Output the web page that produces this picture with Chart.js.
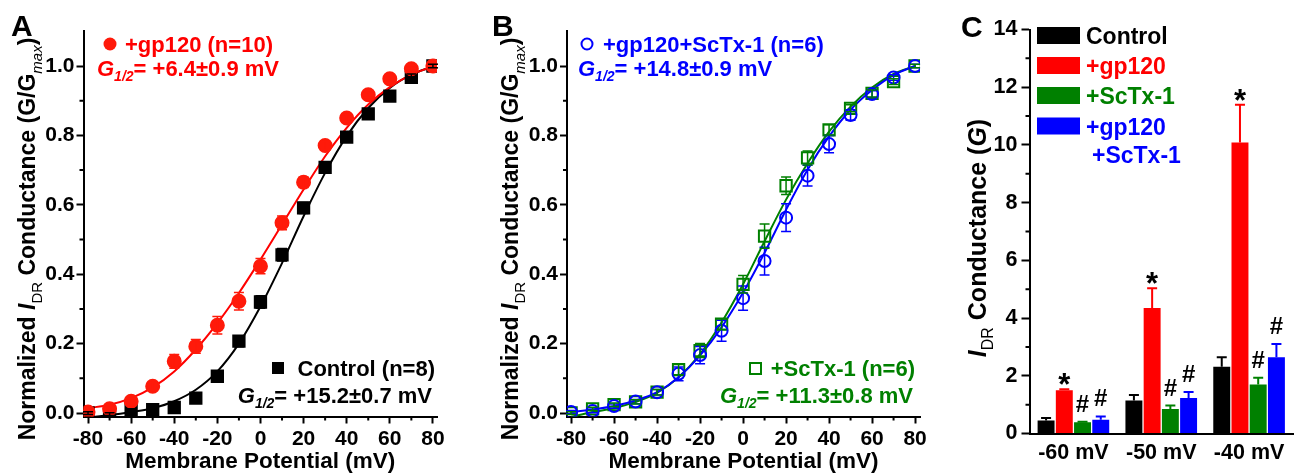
<!DOCTYPE html>
<html>
<head>
<meta charset="utf-8">
<script src="https://cdn.jsdelivr.net/npm/chart.js@4.4.1/dist/chart.umd.min.js"></script>
<style>
  html, body { margin: 0; padding: 0; background: #fff; }
  body { width: 1295px; height: 475px; position: relative; overflow: hidden; }
  .panel { position: absolute; top: 0; height: 475px; }
  #boxA { left: 0; width: 460px; }
  #boxB { left: 460px; width: 480px; }
  #boxC { left: 940px; width: 355px; }
</style>
</head>
<body>
<div class="panel" id="boxA"><canvas id="chartA"></canvas></div>
<div class="panel" id="boxB"><canvas id="chartB"></canvas></div>
<div class="panel" id="boxC"><canvas id="chartC"></canvas></div>
<script>
const FONT = "'Liberation Sans', Arial, Helvetica, sans-serif";

// shared voltage steps (mV) and axis ticks for A and B
const voltages = [-80, -70, -60, -50, -40, -30, -20, -10, 0, 10, 20, 30, 40, 50, 60, 70, 80];
const xTicks = [-80, -60, -40, -20, 0, 20, 40, 60, 80];
const xMinor = [-70, -50, -30, -10, 10, 30, 50, 70];
const yTicks = [0, 0.2, 0.4, 0.6, 0.8, 1.0];
const yMinor = [0.1, 0.3, 0.5, 0.7, 0.9];

// panel A
const controlMean = [0.000, -0.003, 0.008, 0.010, 0.016, 0.043, 0.106, 0.207, 0.320, 0.456, 0.591, 0.708, 0.795, 0.862, 0.913, 0.967, 1.000];
const controlSem  = [0.004, 0.004, 0.004, 0.005, 0.006, 0.008, 0.012, 0.016, 0.018, 0.018, 0.016, 0.015, 0.015, 0.013, 0.012, 0.010, 0.005];
const controlFit  = [-0.013, -0.006, 0.003, 0.014, 0.034, 0.067, 0.120, 0.200, 0.307, 0.432, 0.567, 0.692, 0.798, 0.879, 0.937, 0.975, 0.999];
const gp120Mean = [0.003, 0.012, 0.034, 0.077, 0.149, 0.192, 0.253, 0.322, 0.423, 0.548, 0.665, 0.771, 0.850, 0.917, 0.963, 0.992, 1.000];
const gp120Sem  = [0.005, 0.005, 0.008, 0.010, 0.020, 0.020, 0.025, 0.025, 0.022, 0.020, 0.015, 0.012, 0.010, 0.008, 0.006, 0.005, 0.005];
const gp120Fit  = [0.014, 0.024, 0.043, 0.074, 0.120, 0.183, 0.259, 0.346, 0.442, 0.543, 0.644, 0.740, 0.822, 0.889, 0.939, 0.975, 0.999];

// panel B
const combMean = [0.003, 0.006, 0.020, 0.033, 0.060, 0.113, 0.167, 0.237, 0.331, 0.438, 0.563, 0.684, 0.775, 0.859, 0.919, 0.967, 1.000];
const combSem  = [0.004, 0.005, 0.006, 0.006, 0.008, 0.020, 0.025, 0.030, 0.035, 0.040, 0.040, 0.030, 0.025, 0.015, 0.010, 0.008, 0.005];
const combFit  = [0.003, 0.010, 0.020, 0.036, 0.060, 0.103, 0.166, 0.247, 0.347, 0.462, 0.586, 0.701, 0.797, 0.874, 0.931, 0.974, 1.000];
const sctxMean = [0.000, 0.012, 0.024, 0.032, 0.060, 0.125, 0.180, 0.256, 0.371, 0.510, 0.655, 0.735, 0.816, 0.878, 0.921, 0.955, 1.000];
const sctxSem  = [0.004, 0.005, 0.005, 0.006, 0.008, 0.015, 0.020, 0.015, 0.025, 0.035, 0.025, 0.020, 0.015, 0.010, 0.010, 0.008, 0.005];
const sctxFit  = [-0.011, 0.003, 0.014, 0.032, 0.058, 0.103, 0.170, 0.261, 0.371, 0.495, 0.615, 0.720, 0.811, 0.883, 0.938, 0.977, 1.000];

// panel C
const groups = ['-60 mV', '-50 mV', '-40 mV'];
const cTicks = [0, 2, 4, 6, 8, 10, 12, 14];
const cMinor = [1, 3, 5, 7, 9, 11, 13];
const controlG = [0.45, 1.14, 2.31];
const controlGErr = [0.09, 0.19, 0.33];
const gp120G = [1.50, 4.35, 10.08];
const gp120GErr = [0.03, 0.68, 1.31];
const sctxG = [0.39, 0.85, 1.70];
const sctxGErr = [0.02, 0.12, 0.23];
const combG = [0.48, 1.23, 2.64];
const combGErr = [0.11, 0.21, 0.46];
const gp120Marks = ['*', '*', '*'];
const sctxMarks = ['#', '#', '#'];
const combMarks = ['#', '#', '#'];

const RED = '#ff0000', BLUE = '#0000ff', GREEN = '#008000';

const pts = arr => voltages.map((v, i) => ({x: v, y: arr[i]}));

function drawParts(ctx, parts, x, y, align) {
    let w = 0;
    parts.forEach(p => {
        ctx.font = p[2] + ' ' + p[1] + 'px ' + FONT;
        p.w = ctx.measureText(p[0]).width;
        w += p.w;
    });
    let cx = align === 'right' ? x - w : align === 'center' ? x - w / 2 : x;
    ctx.textAlign = 'left';
    ctx.textBaseline = 'alphabetic';
    parts.forEach(p => {
        ctx.font = p[2] + ' ' + p[1] + 'px ' + FONT;
        ctx.fillText(p[0], cx, y + (p[3] || 0));
        cx += p.w;
    });
}

const gHalf = txt => [['G', 22, 'italic bold'], ['1/2', 14, 'italic bold', 5], [txt, 22, 'bold']];

function rotatedTitle(ctx, parts, bx, cy) {
    ctx.save();
    ctx.translate(bx, cy);
    ctx.rotate(-Math.PI / 2);
    ctx.fillStyle = '#000';
    drawParts(ctx, parts, 0, 0, 'center');
    ctx.restore();
}

const ivTitle = [
    ['Normalized ', 23, 'bold'], ['I', 23, 'italic bold'], ['DR', 15, 'normal', 7],
    [' Conductance (G/G', 23, 'bold'], ['max', 15, 'italic', 7], [')', 23, 'bold']
];

const minorTicks = {
    id: 'minorTicks',
    afterDraw(chart, args, opts) {
        const {ctx, scales: {x, y}} = chart;
        ctx.save();
        ctx.strokeStyle = '#000';
        ctx.lineWidth = 2;
        ctx.beginPath();
        (opts.x || []).forEach(v => {
            const px = x.getPixelForValue(v);
            ctx.moveTo(px, x.top);
            ctx.lineTo(px, x.top + 4);
        });
        (opts.y || []).forEach(v => {
            const py = y.getPixelForValue(v);
            ctx.moveTo(y.right, py);
            ctx.lineTo(y.right - 4, py);
        });
        ctx.stroke();
        ctx.restore();
    }
};

const errorBars = {
    id: 'errorBars',
    afterDatasetsDraw(chart) {
        const {ctx} = chart;
        const y = chart.scales.y;
        chart.data.datasets.forEach((ds, i) => {
            if (!ds.errors) return;
            const meta = chart.getDatasetMeta(i);
            ctx.save();
            ctx.strokeStyle = ds.errColor || ds.borderColor;
            ctx.lineWidth = ds.errWidth || 1.5;
            const cap = ds.capHalf || 4;
            meta.data.forEach((el, j) => {
                const v = typeof ds.data[j] === 'object' ? ds.data[j].y : ds.data[j];
                const e = ds.errors[j];
                const top = y.getPixelForValue(v + e);
                const bot = ds.upOnly ? y.getPixelForValue(v) : y.getPixelForValue(v - e);
                ctx.beginPath();
                ctx.moveTo(el.x, top); ctx.lineTo(el.x, bot);
                ctx.moveTo(el.x - cap, top); ctx.lineTo(el.x + cap, top);
                if (!ds.upOnly) { ctx.moveTo(el.x - cap, bot); ctx.lineTo(el.x + cap, bot); }
                ctx.stroke();
                if (ds.marks) {
                    const m = ds.marks[j];
                    ctx.fillStyle = '#000';
                    ctx.textAlign = 'center';
                    ctx.textBaseline = 'alphabetic';
                    if (m === '*') {
                        ctx.font = 'bold 31px ' + FONT;
                        ctx.fillText(m, el.x, top + 6);
                    } else {
                        ctx.font = 'bold 24px ' + FONT;
                        ctx.fillText(m, el.x, top - 10);
                    }
                }
            });
            ctx.restore();
        });
    }
};

Chart.register(minorTicks, errorBars);

const axisFont = {family: FONT, size: 21, weight: 'bold'};
const axisGrid = {drawOnChartArea: false, tickLength: 7, tickWidth: 2, tickColor: '#000'};
const axisBorder = {color: '#000', width: 2};

function ivScales(xmin, xmax, yWidth) {
    return {
        x: {
            type: 'linear', min: xmin, max: xmax,
            afterBuildTicks: s => { s.ticks = xTicks.map(v => ({value: v})); },
            afterFit: s => { s.height = 475 - 416.5; },
            grid: axisGrid, border: axisBorder,
            ticks: {color: '#000', font: axisFont, padding: 3, maxRotation: 0, autoSkip: false}
        },
        y: {
            min: -0.01, max: 1.1,
            afterBuildTicks: s => { s.ticks = yTicks.map(v => ({value: v})); },
            afterFit: s => { s.width = yWidth; },
            grid: axisGrid, border: axisBorder,
            ticks: {color: '#000', font: axisFont, padding: 2, callback: v => v.toFixed(1)}
        }
    };
}

function fitLine(data, color) {
    return {data: pts(data), showLine: true, borderColor: color, borderWidth: 2, pointRadius: 0,
        cubicInterpolationMode: 'monotone', fill: false};
}

function points(data, err, color, style, filled, r) {
    return {data: pts(data), errors: err, showLine: false, borderColor: color, pointStyle: style,
        pointRadius: r, pointHoverRadius: r, pointBorderWidth: 2, pointBorderColor: color,
        pointBackgroundColor: filled ? color : 'rgba(255,255,255,0)', capHalf: 5};
}

// panel A
new Chart(document.getElementById('chartA'), {
    type: 'scatter',
    data: {
        datasets: [
            points(gp120Mean, gp120Sem, '#ff1a0a', 'circle', true, 6.5),
            points(controlMean, controlSem, '#000', 'rect', true, 8),
            fitLine(gp120Fit, RED),
            fitLine(controlFit, '#000')
        ]
    },
    options: {
        animation: false, responsive: true, maintainAspectRatio: false,
        layout: {padding: {top: 31.3, right: 23, left: 0, bottom: 0}},
        plugins: {legend: {display: false}, tooltip: {enabled: false}, minorTicks: {x: xMinor, y: yMinor}},
        scales: ivScales(-82.1, 81.9, 83.5)
    },
    plugins: [{
        id: 'textA',
        afterDraw(chart) {
            const ctx = chart.ctx, a = chart.chartArea;
            ctx.save();
            ctx.fillStyle = '#000';
            drawParts(ctx, [['A', 30, 'bold']], 11, 36, 'left');
            drawParts(ctx, [['Membrane Potential (mV)', 22.5, 'bold']], (a.left + a.right) / 2, 468, 'center');
            rotatedTitle(ctx, ivTitle, 35, 239);
            // legend gp120
            ctx.fillStyle = '#ff1a0a';
            ctx.beginPath(); ctx.arc(110, 44, 6.5, 0, Math.PI * 2); ctx.fill();
            ctx.fillStyle = RED;
            drawParts(ctx, [['+gp120 (n=10)', 22, 'bold']], 125, 52, 'left');
            drawParts(ctx, gHalf('= +6.4\u00b10.9 mV'), 97, 76, 'left');
            // legend control
            ctx.fillStyle = '#000';
            ctx.fillRect(272, 362, 12, 12);
            drawParts(ctx, [['Control (n=8)', 22, 'bold']], 435, 376, 'right');
            drawParts(ctx, gHalf('= +15.2\u00b10.7 mV'), 432, 403, 'right');
            ctx.restore();
        }
    }]
});

// panel B
new Chart(document.getElementById('chartB'), {
    type: 'scatter',
    data: {
        datasets: [
            points(combMean, combSem, BLUE, 'circle', false, 6),
            points(sctxMean, sctxSem, GREEN, 'rect', false, 8),
            fitLine(combFit, BLUE),
            fitLine(sctxFit, GREEN)
        ]
    },
    options: {
        animation: false, responsive: true, maintainAspectRatio: false,
        layout: {padding: {top: 31.3, right: 20, left: 0, bottom: 0}},
        plugins: {legend: {display: false}, tooltip: {enabled: false}, minorTicks: {x: xMinor, y: yMinor}},
        scales: ivScales(-81.9, 82.3, 107)
    },
    plugins: [{
        id: 'textB',
        afterDraw(chart) {
            const ctx = chart.ctx, a = chart.chartArea;
            ctx.save();
            ctx.fillStyle = '#000';
            drawParts(ctx, [['B', 30, 'bold']], 32, 36, 'left');
            drawParts(ctx, [['Membrane Potential (mV)', 22.5, 'bold']], (a.left + a.right) / 2, 468, 'center');
            rotatedTitle(ctx, ivTitle, 58, 239);
            ctx.strokeStyle = BLUE; ctx.lineWidth = 2;
            ctx.beginPath(); ctx.arc(127, 44, 5.5, 0, Math.PI * 2); ctx.stroke();
            ctx.fillStyle = BLUE;
            drawParts(ctx, [['+gp120+ScTx-1 (n=6)', 22, 'bold']], 143, 52, 'left');
            drawParts(ctx, gHalf('= +14.8\u00b10.9 mV'), 118, 76, 'left');
            ctx.strokeStyle = GREEN;
            ctx.strokeRect(290, 363, 11, 11);
            ctx.fillStyle = GREEN;
            drawParts(ctx, [['+ScTx-1 (n=6)', 22, 'bold']], 455, 376, 'right');
            drawParts(ctx, gHalf('= +11.3\u00b10.8 mV'), 453, 403, 'right');
            ctx.restore();
        }
    }]
});

// panel C
const barColors = ['#000', RED, GREEN, BLUE];
new Chart(document.getElementById('chartC'), {
    type: 'bar',
    data: {
        labels: groups,
        datasets: [
            {label: 'Control', data: controlG, errors: controlGErr},
            {label: '+gp120', data: gp120G, errors: gp120GErr, marks: gp120Marks},
            {label: '+ScTx-1', data: sctxG, errors: sctxGErr, marks: sctxMarks},
            {label: '+gp120 +ScTx-1', data: combG, errors: combGErr, marks: combMarks}
        ].map((d, i) => Object.assign(d, {
            backgroundColor: barColors[i], borderColor: barColors[i], borderWidth: 0,
            upOnly: true, errWidth: 2, capHalf: 5,
            categoryPercentage: 0.83, barPercentage: 0.93
        }))
    },
    options: {
        animation: false, responsive: true, maintainAspectRatio: false,
        layout: {padding: {top: 29.5, right: 2, left: 0, bottom: 0}},
        plugins: {legend: {display: false}, tooltip: {enabled: false}, minorTicks: {y: cMinor}},
        scales: {
            x: {
                afterFit: s => { s.height = 475 - 433.5; },
                grid: {display: false, drawTicks: false}, border: axisBorder,
                ticks: {color: '#000', font: {family: FONT, size: 21.5, weight: 'bold'}, padding: 7, maxRotation: 0}
            },
            y: {
                min: 0, max: 14,
                afterBuildTicks: s => { s.ticks = cTicks.map(v => ({value: v})); },
                afterFit: s => { s.width = 89.5; },
                grid: {drawOnChartArea: false, tickLength: 8, tickWidth: 2, tickColor: '#000'}, border: axisBorder,
                ticks: {color: '#000', font: {family: FONT, size: 21.5, weight: 'bold'}, padding: 4}
            }
        }
    },
    plugins: [{
        id: 'textC',
        afterDraw(chart) {
            const ctx = chart.ctx;
            ctx.save();
            ctx.fillStyle = '#000';
            drawParts(ctx, [['C', 30, 'bold']], 21, 37, 'left');
            rotatedTitle(ctx, [['I', 25, 'italic bold'], ['DR', 16, 'normal', 7], [' Conductance (', 25, 'bold'],
                ['G', 25, 'italic bold'], [')', 25, 'bold']], 46, 238);
            const rows = [[35.5, 'Control'], [65.5, '+gp120'], [95.5, '+ScTx-1'], [126, '+gp120']];
            rows.forEach((r, i) => {
                ctx.fillStyle = barColors[i];
                ctx.fillRect(97, r[0] - 8.5, 43, 17);
                drawParts(ctx, [[r[1], 23, 'bold']], 146, r[0] + 8.5, 'left');
            });
            ctx.fillStyle = BLUE;
            drawParts(ctx, [['+ScTx-1', 23, 'bold']], 152, 163, 'left');
            ctx.restore();
        }
    }]
});
</script>
</body>
</html>
